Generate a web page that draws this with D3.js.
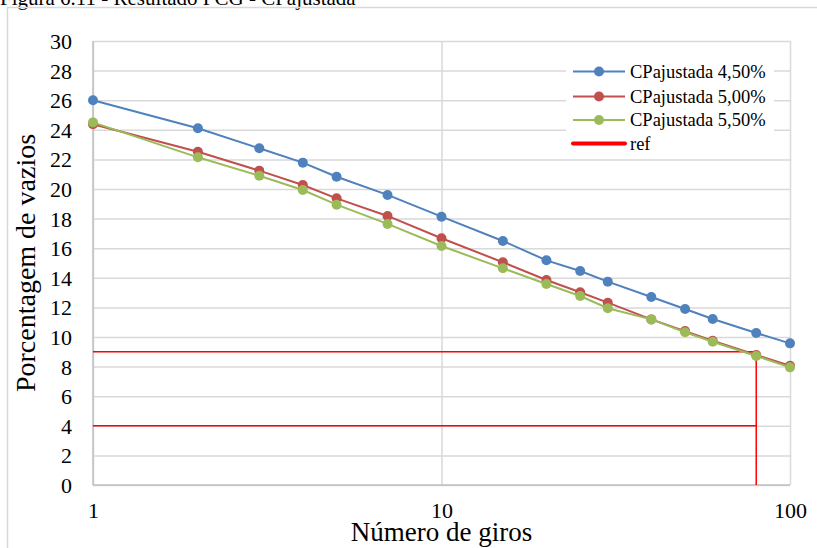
<!DOCTYPE html>
<html>
<head>
<meta charset="utf-8">
<script src="https://cdn.jsdelivr.net/npm/d3@7/dist/d3.min.js"></script>
<style>
  html, body { margin: 0; padding: 0; background: #fff; }
  svg { display: block; }
  text { font-family: "Liberation Serif", "Times New Roman", serif; fill: #000; }
</style>
</head>
<body>
<svg id="chart" width="817" height="548"></svg>
<script>
// Number of gyrations (log axis) and void percentages per binder content
const giros = [1, 2, 3, 4, 5, 7, 10, 15, 20, 25, 30, 40, 50, 60, 80, 100];
const cp450 = [26.0, 24.1, 22.75, 21.78, 20.83, 19.6, 18.13, 16.49, 15.18, 14.46, 13.74, 12.7, 11.89, 11.22, 10.27, 9.57];
const cp500 = [24.37, 22.52, 21.24, 20.27, 19.37, 18.18, 16.67, 15.05, 13.85, 13.02, 12.32, 11.19, 10.4, 9.75, 8.78, 8.06];
const cp550 = [24.5, 22.14, 20.9, 19.93, 18.94, 17.64, 16.15, 14.64, 13.58, 12.77, 11.94, 11.19, 10.32, 9.68, 8.72, 7.95];
const seriesNames = ["CPajustada 4,50%", "CPajustada 5,00%", "CPajustada 5,50%"];
// Reference lines: 9% down to 80 gyrations, and 4%
const refSegments = [
  [[1, 9], [80, 9], [80, 0]],
  [[1, 4], [80, 4]]
];
const refName = "ref";
const yTicks = d3.range(0, 31, 2);
const xTicks = [1, 10, 100];
const titleText = "Figura 6.11 - Resultado PCG - CPajustada";
const xTitle = "Número de giros";
const yTitle = "Porcentagem de vazios";

const colors = ["#4F81BD", "#C0504D", "#9BBB59"];
const refColor = "#FF0000";
const gridColor = "#D9D9D9";
const serif = "'Liberation Serif', 'Times New Roman', serif";

const svg = d3.select("#chart");
const m = { left: 93, right: 790, top: 41, bottom: 485 };

const x = d3.scaleLog().domain([1, 100]).range([m.left, m.right]);
const y = d3.scaleLinear().domain([0, 30]).range([m.bottom, m.top]);

// Caption (partially cut at the top edge)
svg.append("text").attr("x", 0).attr("y", 5)
  .attr("font-size", 21).text(titleText);

// Chart frame
svg.append("path")
  .attr("d", "M7.5,548 V7.5 H817")
  .attr("fill", "none").attr("stroke", gridColor).attr("stroke-width", 1.5);

// Horizontal gridlines
const yAxis = d3.axisLeft(y).tickValues(yTicks).tickSize(-(m.right - m.left)).tickPadding(21).tickFormat(d3.format("d"));
const gy = svg.append("g").attr("transform", `translate(${m.left},0)`).call(yAxis)
  .attr("font-family", serif).attr("font-size", 22);
gy.select(".domain").remove();
gy.selectAll(".tick line").attr("stroke", gridColor).attr("stroke-width", 1.5);
gy.selectAll(".tick text").attr("fill", "#000").attr("dy", "0.34em");

// Vertical gridlines at decades
const xAxis = d3.axisBottom(x).tickValues(xTicks).tickSize(-(m.bottom - m.top)).tickPadding(0).tickFormat(d3.format("d"));
const gx = svg.append("g").attr("transform", `translate(0,${m.bottom})`).call(xAxis)
  .attr("font-family", serif).attr("font-size", 22);
gx.select(".domain").remove();
gx.selectAll(".tick line").attr("stroke", gridColor).attr("stroke-width", 1.5);
gx.selectAll(".tick text").attr("fill", "#000").attr("y", 33).attr("dy", 0);

// Axis lines (left and bottom)
svg.append("line").attr("x1", m.left).attr("x2", m.left).attr("y1", m.top).attr("y2", m.bottom)
  .attr("stroke", "#BFBFBF").attr("stroke-width", 1.5);
svg.append("line").attr("x1", m.left).attr("x2", m.right).attr("y1", m.bottom).attr("y2", m.bottom)
  .attr("stroke", "#BFBFBF").attr("stroke-width", 1.5);

// Axis titles
svg.append("text").attr("x", (m.left + m.right) / 2).attr("y", 541)
  .attr("text-anchor", "middle").attr("font-size", 27).text(xTitle);
svg.append("text").attr("transform", `translate(35,${(m.top + m.bottom) / 2}) rotate(-90)`)
  .attr("text-anchor", "middle").attr("font-size", 28).text(yTitle);

// Reference lines
const line = d3.line().x(d => x(d[0])).y(d => y(d[1]));
refSegments.forEach(seg => {
  svg.append("path").attr("d", line(seg)).attr("fill", "none")
    .attr("stroke", refColor).attr("stroke-width", 1.5);
});

// Data series
const allSeries = [cp450, cp500, cp550];
allSeries.forEach((vals, i) => {
  const pts = giros.map((g, k) => [g, vals[k]]);
  svg.append("path").attr("d", line(pts)).attr("fill", "none")
    .attr("stroke", colors[i]).attr("stroke-width", 2);
  svg.append("g").selectAll("circle").data(pts).join("circle")
    .attr("cx", d => x(d[0])).attr("cy", d => y(d[1])).attr("r", 5)
    .attr("fill", colors[i]);
});

// Legend
const lg = svg.append("g");
lg.append("rect").attr("x", 566).attr("y", 60).attr("width", 208).attr("height", 94).attr("fill", "#fff");
const rows = [71.5, 96.5, 120, 143.5];
seriesNames.forEach((name, i) => {
  lg.append("line").attr("x1", 573).attr("x2", 625).attr("y1", rows[i]).attr("y2", rows[i])
    .attr("stroke", colors[i]).attr("stroke-width", 2);
  lg.append("circle").attr("cx", 599).attr("cy", rows[i]).attr("r", 5).attr("fill", colors[i]);
  lg.append("text").attr("x", 630).attr("y", rows[i] + 6).attr("font-size", 18.5).text(name);
});
lg.append("line").attr("x1", 573).attr("x2", 625).attr("y1", rows[3]).attr("y2", rows[3])
  .attr("stroke", refColor).attr("stroke-width", 4).attr("stroke-linecap", "round");
lg.append("text").attr("x", 630).attr("y", rows[3] + 6).attr("font-size", 18.5).text(refName);
</script>
</body>
</html>
